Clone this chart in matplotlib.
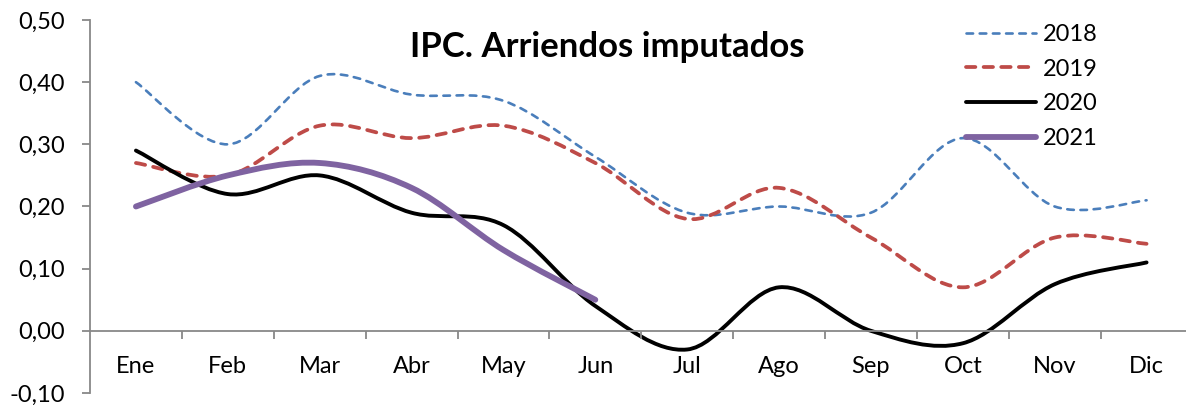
import matplotlib.pyplot as plt
from matplotlib.path import Path
from matplotlib.patches import PathPatch
from matplotlib.lines import Line2D

months = ['Ene', 'Feb', 'Mar', 'Abr', 'May', 'Jun', 'Jul', 'Ago', 'Sep', 'Oct', 'Nov', 'Dic']
ipc_2018 = [0.40, 0.30, 0.41, 0.38, 0.37, 0.28, 0.19, 0.20, 0.19, 0.31, 0.20, 0.21]
ipc_2019 = [0.27, 0.25, 0.33, 0.31, 0.33, 0.27, 0.18, 0.23, 0.15, 0.07, 0.15, 0.14]
ipc_2020 = [0.29, 0.22, 0.25, 0.19, 0.17, 0.04, -0.03, 0.07, 0.00, -0.02, 0.075, 0.11]
ipc_2021 = [0.20, 0.25, 0.27, 0.23, 0.13, 0.05]
y_ticks = [-0.10, 0.00, 0.10, 0.20, 0.30, 0.40, 0.50]

plt.rcParams['font.family'] = ['Lato', 'DejaVu Sans']


def smooth_path(values):
    # Excel-like smoothed line: cubic Bezier through every point
    xs = list(range(len(values)))
    n = len(values)
    tangents = []
    for i in range(n):
        a = max(i - 1, 0)
        b = min(i + 1, n - 1)
        tangents.append(((xs[b] - xs[a]) / 2, (values[b] - values[a]) / 2))
    verts = [(xs[0], values[0])]
    codes = [Path.MOVETO]
    for i in range(n - 1):
        verts.append((xs[i] + tangents[i][0] / 3, values[i] + tangents[i][1] / 3))
        verts.append((xs[i + 1] - tangents[i + 1][0] / 3, values[i + 1] - tangents[i + 1][1] / 3))
        verts.append((xs[i + 1], values[i + 1]))
        codes += [Path.CURVE4] * 3
    return Path(verts, codes)


series = [
    ('2018', ipc_2018, '#4a7ebb', 1.9, (0, (2.5, 2.5))),
    ('2019', ipc_2019, '#be4b48', 2.7, (0, (2.5, 2.2))),
    ('2020', ipc_2020, 'black', 2.8, '-'),
    ('2021', ipc_2021, '#7f63a1', 4.2, '-'),
]

fig = plt.figure(figsize=(11.86, 4.05), dpi=100)
ax = fig.add_axes([90 / 1186, 12 / 405, 1102.5 / 1186, 373 / 405])

handles = []
for name, vals, color, lw, ls in series:
    patch = PathPatch(smooth_path(vals), fill=False, edgecolor=color, lw=lw,
                      linestyle=ls, capstyle='round', joinstyle='round')
    ax.add_patch(patch)
    handles.append(Line2D([], [], color=color, lw=lw, linestyle=ls,
                          dash_capstyle='round', solid_capstyle='round', label=name))

ax.set_xlim(-0.5, 11.5)
ax.set_ylim(-0.10, 0.50)

axis_color = '#888888'
for s in ['top', 'right']:
    ax.spines[s].set_visible(False)
ax.spines['bottom'].set_position(('data', 0))
ax.spines['bottom'].set_color(axis_color)
ax.spines['left'].set_color(axis_color)
ax.spines['bottom'].set_linewidth(1.3)
ax.spines['left'].set_linewidth(1.3)

ax.set_yticks(y_ticks)
ax.set_yticklabels([('%.2f' % v).replace('.', ',') for v in y_ticks])
ax.tick_params(axis='y', direction='out', length=6, width=1.3, color=axis_color,
               labelsize=17, pad=12)

ax.set_xticks([i + 0.5 for i in range(11)])
ax.set_xticklabels([])
ax.set_xticks(range(12), minor=True)
ax.set_xticklabels(months, minor=True)
ax.tick_params(axis='x', which='major', direction='out', length=6, width=1.3, color=axis_color)
ax.tick_params(axis='x', which='minor', length=0, labelsize=17, pad=18)

fig.text(607 / 1186, 1 - 47 / 405, 'IPC. Arriendos imputados', ha='center', va='center',
         fontsize=25, fontweight='bold')

fig.legend(handles=handles, loc='upper left', bbox_to_anchor=(966 / 1186, 1 - 24 / 405),
           frameon=False, fontsize=17, handlelength=2.95, handletextpad=0.3,
           labelspacing=0.58, borderaxespad=0, borderpad=0)

fig.savefig('out.png', dpi=100)
